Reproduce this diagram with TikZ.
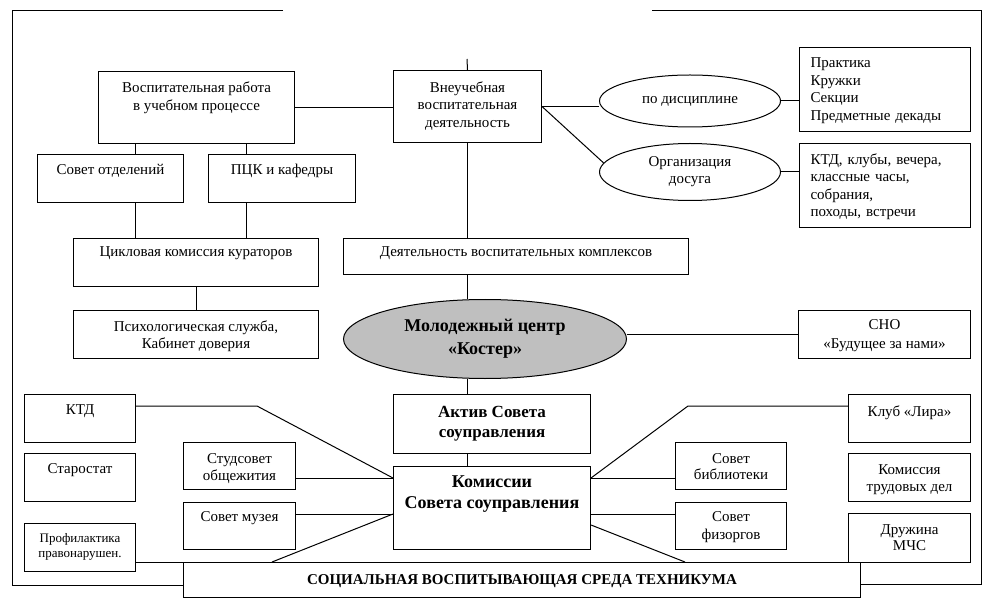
\documentclass[tikz,border=0pt]{standalone}
\usepackage{fontspec}
\setmainfont{Liberation Serif}
\usetikzlibrary{shapes.geometric,calc}
\tikzset{
  box/.style={rectangle, draw, anchor=north west, inner sep=0pt, align=center, text height=20pt, font=\fontsize{15}{18}\selectfont},
  lbox/.style={box, align=left, inner xsep=11pt, text width=149pt},
  bbox/.style={box, font=\bfseries\fontsize{17}{20}\selectfont},
  oval/.style={ellipse, draw, inner sep=0pt, align=center, font=\fontsize{15}{18}\selectfont}
}

\begin{document}
\begin{tikzpicture}[x=1pt, y=-1pt, line width=1pt]
\useasboundingbox (0,0) rectangle (984,601);
\node[box, minimum width=196, text height=39, text depth=33] (vr) at (98,71) {Воспитательная работа\\в учебном процессе};
\node[box, minimum width=148, text height=57, text depth=15, font=\fontsize{15}{17.5}\selectfont] (vn) at (393,70) {Внеучебная\\воспитательная\\деятельность};
\node[box, minimum width=146, text depth=28] (so) at (37,154) {Совет отделений};
\node[box, minimum width=147, text depth=28] (pck) at (208,154) {ПЦК и кафедры};
\node[box, minimum width=245, text height=18, text depth=30] (ck) at (73,238) {Цикловая комиссия кураторов};
\node[box, minimum width=245, text height=38, text depth=10, font=\fontsize{15}{17}\selectfont] (ps) at (73,310) {Психологическая служба,\\Кабинет доверия};
\node[box, minimum width=345, text height=18, text depth=18] (dk) at (343,238) {Деятельность воспитательных комплексов};
\node[oval, minimum width=181, minimum height=52] (dis) at (690,101) {по дисциплине};
\node[oval, minimum width=181, minimum height=57, font=\fontsize{15}{17}\selectfont] (dos) at (690,172) {Организация\\досуга};
\node[lbox, text depth=64, font=\fontsize{15}{17.7}\selectfont] (pr) at (799,47) {Практика\\Кружки\\Секции\\Предметные декады};
\node[lbox, text height=21, text depth=63, font=\fontsize{15}{17.5}\selectfont] (kl) at (799,143) {КТД, клубы, вечера,\\классные часы,\\собрания,\\походы, встречи};
\node[oval, fill=gray!50, minimum width=283, minimum height=79, font=\bfseries\fontsize{18}{23}\selectfont] (mc) at (485,339) {Молодежный центр\\«Костер»};
\node[box, minimum width=172, text height=38, text depth=10, font=\fontsize{15}{19}\selectfont] (sno) at (798,310) {СНО\\«Будущее за нами»};
\node[bbox, minimum width=197, text height=43, text depth=16] (akt) at (393,394) {Актив Совета\\соуправления};
\node[bbox, minimum width=197, text height=42, text depth=41, font=\bfseries\fontsize{18}{21}\selectfont] (kom) at (393,466) {Комиссии\\Совета соуправления};
\node[box, minimum width=111, text depth=28] (ktd) at (24,394) {КТД};
\node[box, minimum width=111, text depth=28] (star) at (24,453) {Старостат};
\node[box, minimum width=111, text height=34, text depth=14, font=\fontsize{13}{15}\selectfont] (prof) at (24,523) {Профилактика\\правонарушен.};
\node[box, minimum width=112, text height=38, text depth=9, font=\fontsize{15}{17}\selectfont] (stud) at (183,442) {Студсовет\\общежития};
\node[box, minimum width=112, text height=19, text depth=28] (muz) at (183,502) {Совет музея};
\node[box, minimum width=122, text height=22, text depth=26] (lira) at (848,394) {Клуб «Лира»};
\node[box, minimum width=122, text height=38, text depth=10, font=\fontsize{15}{17}\selectfont] (trud) at (848,453) {Комиссия\\трудовых дел};
\node[box, minimum width=122, text height=37, text depth=12, font=\fontsize{15}{16}\selectfont] (mchs) at (848,513) {Дружина\\МЧС};
\node[box, minimum width=111, text height=37, text depth=10, font=\fontsize{15}{16}\selectfont] (bib) at (675,442) {Совет\\библиотеки};
\node[box, minimum width=111, text height=37, text depth=10] (fiz) at (675,502) {Совет\\физоргов};
\node[bbox, minimum width=677, text height=22, text depth=13, font=\bfseries\fontsize{15}{18}\selectfont] (soc) at (183,562) {СОЦИАЛЬНАЯ ВОСПИТЫВАЮЩАЯ СРЕДА ТЕХНИКУМА};

\coordinate (top) at (467,59);
\coordinate (xa) at (135,0);
\coordinate (xb) at (246,0);
\coordinate (ya) at (0,478);
\coordinate (yb) at (0,514);
\coordinate (yc) at (0,525);
\coordinate (kb) at (257,406);
\coordinate (lb) at (688,406);
\coordinate (sa) at (272,562);
\coordinate (sb) at (685,562);

\draw (283,11) -- (12,11) -- (12,585) -- (soc.west |- 0,585);
\draw (652,11) -- (981,11) -- (981,584) -- (soc.east |- 0,584);

\draw (top) -- (vn.north);
\draw (vr.east) -- (vr.east -| vn.west);
\draw (vn.east) -- (vn.east -| dis.west);
\draw (vn.east) -- (dos.174);
\draw (dis.east) -- (dis.east -| pr.west);
\draw (dos.east) -- (dos.east -| kl.west);
\draw (xa |- vr.south) -- (xa |- so.north) (xa |- so.south) -- (xa |- ck.north);
\draw (xb |- vr.south) -- (xb |- pck.north) (xb |- pck.south) -- (xb |- ck.north);
\draw (ck.south) -- (ps.north);
\draw (vn.south) -- (vn.south |- dk.north) (vn.south |- dk.south) -- (vn.south |- mc.north)
  (vn.south |- mc.south) -- (vn.south |- akt.north) (vn.south |- akt.south) -- (vn.south |- kom.north);
\draw (sno.west -| mc.east) -- (sno.west);
\draw (ktd.east |- kb) -- (kb) -- (kom.west |- ya);
\draw (stud.east |- ya) -- (kom.west |- ya);
\draw (muz.east |- yb) -- (kom.west |- yb);
\draw (kom.west |- yb) -- (sa);
\draw (prof.east |- soc.north) -- (soc.north west);
\draw (kom.east |- ya) -- (lb) -- (lira.west |- lb);
\draw (kom.east |- ya) -- (bib.west |- ya);
\draw (kom.east |- yb) -- (fiz.west |- yb);
\draw (kom.east |- yc) -- (sb);
\end{tikzpicture}
\end{document}
